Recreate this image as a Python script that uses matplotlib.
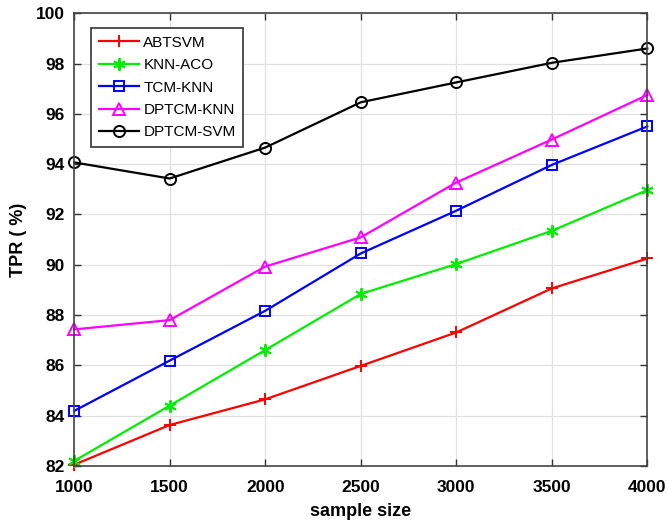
import matplotlib
matplotlib.use("Agg")
import matplotlib.pyplot as plt

sample_size = [1000, 1500, 2000, 2500, 3000, 3500, 4000]
abtsvm = [82.05, 83.63, 84.65, 85.98, 87.31, 89.06, 90.25]
knn_aco = [82.2, 84.4, 86.61, 88.84, 90.03, 91.35, 92.97]
tcm_knn = [84.19, 86.19, 88.17, 90.45, 92.15, 93.97, 95.5]
dptcm_knn = [87.43, 87.8, 89.93, 91.09, 93.27, 94.98, 96.75]
dptcm_svm = [94.07, 93.43, 94.66, 96.46, 97.25, 98.03, 98.6]

asterisk = (6, 2, 0)
series = [
    ("ABTSVM", abtsvm, "#ff0000", "+", {}),
    ("KNN-ACO", knn_aco, "#00ee00", asterisk, {}),
    ("TCM-KNN", tcm_knn, "#0000ff", "s", {"markerfacecolor": "none", "markersize": 7}),
    ("DPTCM-KNN", dptcm_knn, "#ff00ff", "^", {"markerfacecolor": "none", "markersize": 9}),
    ("DPTCM-SVM", dptcm_svm, "#000000", "o", {"markerfacecolor": "none", "markersize": 8}),
]

fig = plt.figure(figsize=(6.68, 5.24), dpi=100)
ax = fig.add_axes([0.111, 0.1107, 0.858, 0.864])

for name, vals, col, mk, kw in series:
    opts = dict(markersize=9, markeredgewidth=1.4)
    opts.update(kw)
    ax.plot(sample_size, vals, color=col, marker=mk, linewidth=1.6,
            label=name, clip_on=False, **opts)

ax.set_xlim(1000, 4000)
ax.set_ylim(82, 100)
ax.set_xticks(sample_size)
ax.set_yticks(range(82, 101, 2))
ax.grid(True, color="#e0e0e0", linewidth=0.9)
ax.set_axisbelow(True)
ax.tick_params(direction="in", top=True, right=True, length=5, width=1, color="#333333")
ax.tick_params(axis="x", pad=10)
ax.tick_params(axis="y", pad=7)
fam = ["Liberation Sans", "DejaVu Sans"]
for lbl in ax.get_xticklabels() + ax.get_yticklabels():
    lbl.set_fontfamily(fam)
    lbl.set_fontweight("bold")
    lbl.set_fontsize(12.5)
for s in ax.spines.values():
    s.set_color("#444444")
    s.set_linewidth(1.2)

ax.set_xlabel("sample size", fontfamily=fam, fontweight="bold", fontsize=13, labelpad=6)
ax.set_ylabel("TPR ( %)", fontfamily=fam, fontweight="bold", fontsize=13, labelpad=6)

leg = ax.legend(loc="upper left", bbox_to_anchor=(0.03, 0.967), borderaxespad=0,
                fancybox=False, edgecolor="#333333", framealpha=1, handlelength=2.6,
                borderpad=0.5, labelspacing=0.55, handletextpad=0.3,
                prop={"family": fam, "size": 11})
leg.get_frame().set_linewidth(1.2)

fig.savefig("out.png", dpi=100)
